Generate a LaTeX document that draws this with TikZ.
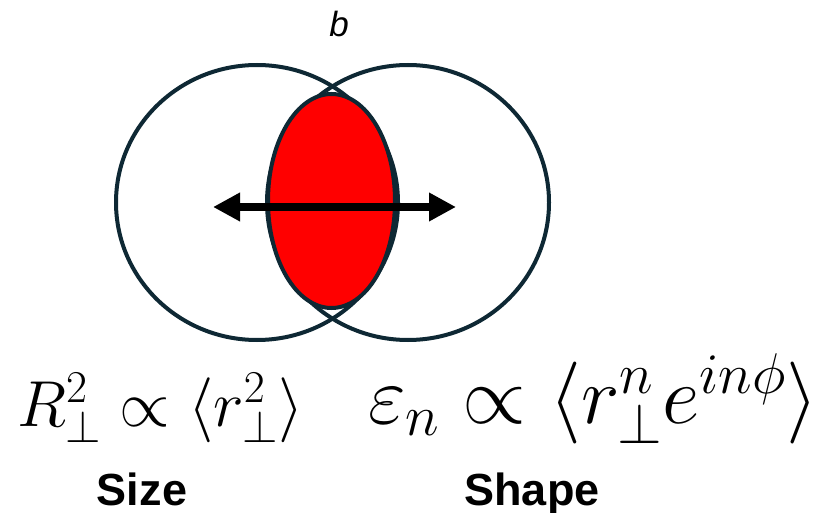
\RequirePackage{fix-cm}
\documentclass[tikz,border=0pt]{standalone}
\usepackage{fontspec}
\setsansfont{Liberation Sans}
\usetikzlibrary{arrows.meta,shapes.geometric}
\definecolor{rim}{RGB}{14,40,52}
\begin{document}
\begin{tikzpicture}[x=1pt,y=-1pt,
  ring/.style={ellipse,draw=rim,line width=4pt,inner sep=0pt,minimum width=282pt,minimum height=275pt},
  overlap/.style={ellipse,draw=rim,fill=red,line width=4pt,inner sep=0pt,minimum width=127pt,minimum height=214pt},
  bigarrow/.style={line width=8pt,{Triangle[length=27pt,width=27pt]}-{Triangle[length=27pt,width=27pt]}},
  formula/.style={anchor=base west,inner sep=0pt},
  caption/.style={anchor=base,inner sep=0pt,font=\sffamily\bfseries\fontsize{45}{50}\selectfont}]
\useasboundingbox (0,0) rectangle (822,513);
\node[ring] (lc) at (257,202.5) {};
\node[ring] (rc) at (408,202.5) {};
\node[overlap] (ov) at (331.5,201) {};
\coordinate (al) at (213,207);
\coordinate (ar) at (456,207);
\draw[bigarrow] (al) -- (ar);
\node[anchor=base,inner sep=0pt,font=\sffamily\itshape\fontsize{35}{40}\selectfont] (b) at (339,37) {b};
\node[formula,font=\fontsize{65}{70}\selectfont] (f1) at (17,426) {$R^2_\perp \propto \langle r^2_\perp\rangle$};
\node[formula,font=\fontsize{82}{88}\selectfont] (f2) at (368,423) {$\varepsilon_n \propto \langle r^n_\perp e^{in\phi}\rangle$};
\node[caption] (size) at (142,505) {Size};
\node[caption] (shape) at (532,505) {Shape};
\end{tikzpicture}
\end{document}
